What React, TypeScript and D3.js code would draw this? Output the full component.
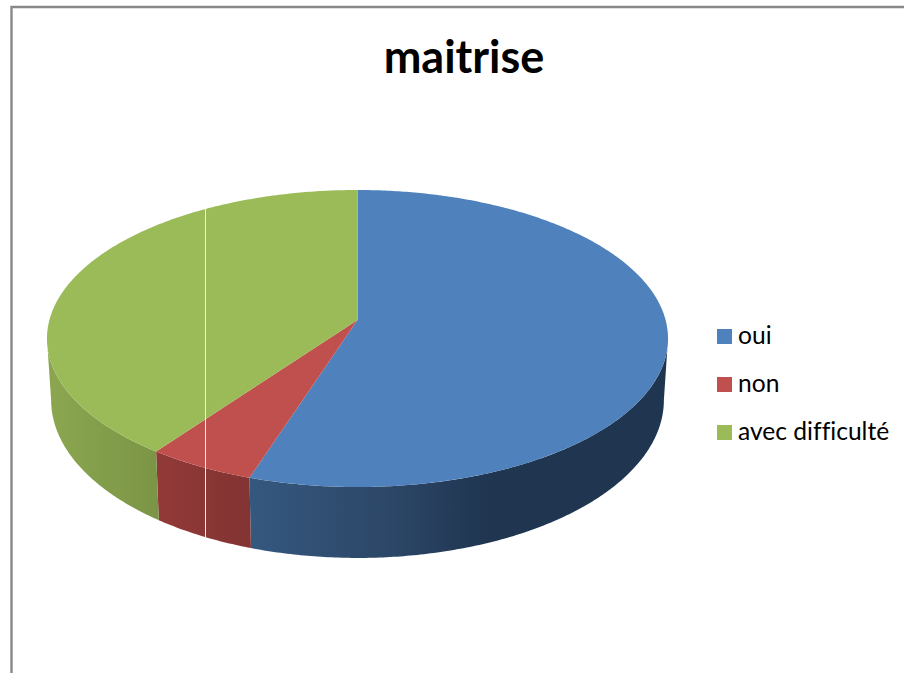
import React from "react";
import * as d3 from "d3";

const categories = ["oui", "non", "avec difficulté"];
const values = [55, 5, 40];
const topColors = ["#4f81bd", "#c0504d", "#9bbb59"];
const sideStops = [
  [["#35587f", 250], ["#2b4565", 400], ["#1f3550", 490], ["#1f3550", 670]],
  [["#923a38", 158], ["#823332", 251]],
  [["#8ca650", 48], ["#85a04c", 90], ["#7b9546", 158]],
] as [string, number][][];
const title = "maitrise";

const W = 904, H = 673;
const cx = 357.5;
const persp = 0.1246;
const project = (theta: number, y0: number, a: number, b: number): [number, number] => {
  const u = Math.sin(theta), v = Math.cos(theta);
  const d = 1 + persp * v;
  return [cx + (a * u) / d, y0 - (b * v) / d];
};
const topPoint = (t: number) => project(t, 320, 308.1, 146.2);
const bottomPoint = (t: number) => project(t, 380.3, 304, 155.5);

const arcs = d3.pie<number>().sort(null)(values);
const line = d3.line();
const samples = (a: number, b: number) => {
  const n = Math.max(2, Math.ceil((b - a) / 0.01));
  return d3.range(n + 1).map((i) => a + ((b - a) * i) / n);
};
// Silhouette tangents of the projected disc
const FRONT_A = Math.acos(-persp), FRONT_B = 2 * Math.PI - Math.acos(-persp);
const font = "Lato, Carlito, Calibri, sans-serif";

export default function App() {
  const legendY = d3.scalePoint<string>().domain(categories).range([337, 433]);
  return (
    <svg width={W} height={H} style={{ position: "fixed", left: 0, top: 0, background: "#fff" }}>
      <defs>
        {sideStops.map((stops, i) => {
          const x0 = stops[0][1], x1 = stops[stops.length - 1][1];
          return (
            <linearGradient key={i} id={`side${i}`} gradientUnits="userSpaceOnUse" x1={x0} x2={x1} y1={0} y2={0}>
              {stops.map(([c, x], j) => (
                <stop key={j} offset={(x - x0) / (x1 - x0)} stopColor={c} />
              ))}
            </linearGradient>
          );
        })}
      </defs>
      <path d={`M11.5 ${H}V7H${W}`} fill="none" stroke="#898989" strokeWidth={2.4} />
      <text x={464} y={73} textAnchor="middle" fontFamily={font} fontWeight={700} fontSize={45} fill="#000">
        {title}
      </text>
      {arcs.map((a, i) => {
        const s = Math.max(a.startAngle, FRONT_A), e = Math.min(a.endAngle, FRONT_B);
        const ts = samples(s, e);
        const pts = [...ts.map(topPoint), ...ts.slice().reverse().map(bottomPoint)];
        return <path key={i} d={(line(pts) as string) + "Z"} fill={`url(#side${i})`} />;
      })}
      {arcs.map((a, i) => {
        const pts = [[cx, 320] as [number, number], ...samples(a.startAngle, a.endAngle).map(topPoint)];
        return <path key={i} d={(line(pts) as string) + "Z"} fill={topColors[i]} />;
      })}
      <line x1={205.5} x2={205.5} y1={209} y2={538} stroke="#f4f0c8" strokeWidth={1} />
      {categories.map((c, i) => {
        const y = legendY(c) as number;
        return (
          <g key={c}>
            <rect x={717} y={y - 8} width={15} height={15} fill={topColors[i]} />
            <text x={738} y={y + 6.5} fontFamily={font} fontSize={24.6} fill="#000" style={{ fontVariantLigatures: "none" }}>
              {c}
            </text>
          </g>
        );
      })}
    </svg>
  );
}
